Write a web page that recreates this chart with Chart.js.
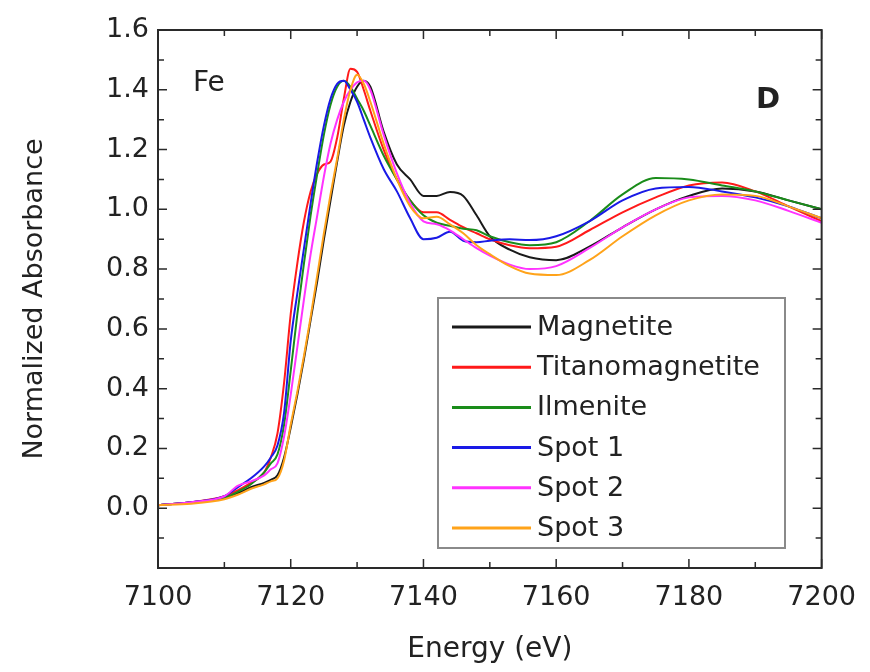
<!DOCTYPE html>
<html>
<head>
<meta charset="utf-8">
<script src="https://cdn.jsdelivr.net/npm/chart.js@4.4.1/dist/chart.umd.min.js"></script>
<style>
  html, body { margin: 0; padding: 0; background: #fff; }
  #wrap { width: 870px; height: 672px; }
</style>
</head>
<body>
<div id="wrap"><canvas id="xanesChart" width="870" height="672"></canvas></div>
<script>
// energy grid (eV) shared by all spectra
const energy = [7100, 7105, 7110, 7112, 7114, 7116, 7117, 7118, 7119, 7120,
  7121, 7122, 7123, 7124, 7125, 7126, 7127, 7128, 7129, 7130,
  7131, 7132, 7134, 7136, 7138, 7140, 7142, 7144, 7146, 7148,
  7150, 7153, 7156, 7160, 7165, 7170, 7175, 7180, 7185, 7190, 7195, 7200];

const magnetite = [0.01, 0.02, 0.035, 0.05, 0.07, 0.085, 0.095, 0.11, 0.17, 0.27,
  0.38, 0.50, 0.63, 0.76, 0.90, 1.03, 1.16, 1.28, 1.36, 1.41,
  1.43, 1.41, 1.26, 1.15, 1.10, 1.045, 1.045, 1.058, 1.045, 0.98,
  0.91, 0.865, 0.84, 0.83, 0.875, 0.94, 1.00, 1.045, 1.07, 1.06, 1.03, 1.0];

const titanomagnetite = [0.01, 0.02, 0.04, 0.06, 0.085, 0.12, 0.17, 0.25, 0.42, 0.65,
  0.82, 0.96, 1.06, 1.12, 1.15, 1.16, 1.24, 1.37, 1.47, 1.46,
  1.40, 1.33, 1.20, 1.10, 1.03, 0.99, 0.99, 0.965, 0.94, 0.92,
  0.90, 0.88, 0.87, 0.875, 0.93, 0.99, 1.04, 1.08, 1.09, 1.06, 1.01, 0.96];

const ilmenite = [0.01, 0.02, 0.035, 0.055, 0.08, 0.12, 0.15, 0.18, 0.28, 0.46,
  0.65, 0.82, 0.98, 1.12, 1.25, 1.35, 1.41, 1.43, 1.41, 1.37,
  1.33, 1.28, 1.18, 1.10, 1.03, 0.98, 0.955, 0.945, 0.935, 0.93,
  0.91, 0.89, 0.88, 0.89, 0.96, 1.05, 1.105, 1.10, 1.08, 1.06, 1.03, 1.0];

const spot1 = [0.01, 0.02, 0.04, 0.07, 0.10, 0.14, 0.17, 0.21, 0.32, 0.56,
  0.72, 0.87, 1.02, 1.16, 1.28, 1.37, 1.42, 1.43, 1.40, 1.36,
  1.30, 1.24, 1.135, 1.06, 0.97, 0.90, 0.905, 0.925, 0.895, 0.89,
  0.895, 0.90, 0.897, 0.91, 0.96, 1.03, 1.07, 1.075, 1.06, 1.04, 1.01, 0.97];

const spot2 = [0.01, 0.02, 0.04, 0.075, 0.09, 0.11, 0.13, 0.15, 0.24, 0.38,
  0.54, 0.70, 0.85, 0.98, 1.11, 1.22, 1.30, 1.36, 1.40, 1.425,
  1.43, 1.40, 1.25, 1.12, 1.02, 0.96, 0.95, 0.93, 0.90, 0.87,
  0.845, 0.815, 0.80, 0.81, 0.87, 0.94, 1.00, 1.04, 1.045, 1.03, 0.995, 0.955];

const spot3 = [0.01, 0.015, 0.03, 0.045, 0.065, 0.08, 0.09, 0.10, 0.16, 0.28,
  0.39, 0.51, 0.64, 0.78, 0.92, 1.05, 1.17, 1.30, 1.40, 1.45,
  1.42, 1.36, 1.22, 1.10, 1.01, 0.97, 0.975, 0.95, 0.92, 0.88,
  0.85, 0.81, 0.785, 0.78, 0.83, 0.91, 0.98, 1.03, 1.05, 1.045, 1.01, 0.97];

const seriesNames = ['Magnetite', 'Titanomagnetite', 'Ilmenite', 'Spot 1', 'Spot 2', 'Spot 3'];
const seriesValues = [magnetite, titanomagnetite, ilmenite, spot1, spot2, spot3];
const seriesColors = ['#1a1a1a', '#ff1a1a', '#1a8c1a', '#1a1ae6', '#ff33ff', '#ffa31a'];

const FONT = 'DejaVu Sans';

function toPoints(vals) {
  return vals.map((v, i) => ({ x: energy[i], y: v }));
}

// frame, inward ticks, labels and the boxed legend
const decor = {
  id: 'decor',
  afterDraw(chart) {
    const c = chart.ctx;
    const a = chart.chartArea;
    const xs = chart.scales.x, ys = chart.scales.y;
    c.save();
    c.strokeStyle = '#2a2a2a';
    c.lineWidth = 2;
    c.strokeRect(a.left, a.top, a.right - a.left, a.bottom - a.top);

    c.lineWidth = 1.5;
    for (let e = 7100; e <= 7200; e += 10) {
      const px = xs.getPixelForValue(e);
      const len = (e % 20 === 0) ? 9 : 6;
      c.beginPath();
      c.moveTo(px, a.bottom); c.lineTo(px, a.bottom - len);
      c.moveTo(px, a.top); c.lineTo(px, a.top + len);
      c.stroke();
    }
    for (let k = -2; k <= 16; k++) {
      const py = ys.getPixelForValue(k / 10);
      const len = (k % 2 === 0) ? 9 : 6;
      c.beginPath();
      c.moveTo(a.left, py); c.lineTo(a.left + len, py);
      c.moveTo(a.right, py); c.lineTo(a.right - len, py);
      c.stroke();
    }

    c.fillStyle = '#222';
    c.textBaseline = 'middle';
    c.font = '28px "' + FONT + '"';
    c.fillText('Fe', 193, 84);
    c.font = 'bold 29px "' + FONT + '"';
    c.fillText('D', 756, 100);

    // legend
    const lx = 438, ly = 298, lw = 347, lh = 250;
    c.strokeStyle = '#8a8a8a';
    c.lineWidth = 2;
    c.strokeRect(lx, ly, lw, lh);
    c.font = '27px "' + FONT + '"';
    chart.data.datasets.forEach((ds, i) => {
      const ry = 327 + i * 40.2;
      c.strokeStyle = ds.borderColor;
      c.lineWidth = 3;
      c.beginPath();
      c.moveTo(452, ry); c.lineTo(531, ry);
      c.stroke();
      c.fillStyle = '#222';
      c.fillText(ds.label, 537, ry + 1);
    });
    c.restore();
  }
};

const ctx = document.getElementById('xanesChart').getContext('2d');
const chart = new Chart(ctx, {
  type: 'line',
  data: {
    datasets: seriesNames.map((name, i) => ({
      label: name,
      data: toPoints(seriesValues[i]),
      borderColor: seriesColors[i],
      backgroundColor: seriesColors[i],
      borderWidth: 2,
      pointRadius: 0,
      cubicInterpolationMode: 'monotone',
      order: seriesNames.length - i
    }))
  },
  options: {
    responsive: false,
    animation: false,
    layout: { padding: { top: 30, right: 44, left: 0, bottom: 0 } },
    plugins: { legend: { display: false }, tooltip: { enabled: false } },
    scales: {
      x: {
        type: 'linear',
        min: 7100,
        max: 7200,
        grid: { display: false, drawTicks: false },
        border: { display: false },
        ticks: {
          stepSize: 20,
          padding: 14,
          color: '#222',
          font: { family: FONT, size: 27 },
          maxRotation: 0,
          callback: v => String(v)
        },
        title: {
          display: true,
          text: 'Energy (eV)',
          color: '#222',
          font: { family: FONT, size: 28 },
          padding: { top: 0, bottom: 5 }
        },
        afterFit: s => { s.height = 104; }
      },
      y: {
        min: -0.2,
        max: 1.6,
        grid: { display: false, drawTicks: false },
        border: { display: false },
        ticks: {
          stepSize: 0.2,
          padding: 9,
          color: '#222',
          font: { family: FONT, size: 27 },
          callback: v => (v < -0.05 ? '' : Number(v).toFixed(1))
        },
        title: {
          display: true,
          text: 'Normalized Absorbance',
          color: '#222',
          font: { family: FONT, size: 27 },
          padding: { top: 19, bottom: 0 }
        },
        afterFit: s => { s.width = 158; }
      }
    }
  },
  plugins: [decor]
});
</script>
</body>
</html>
